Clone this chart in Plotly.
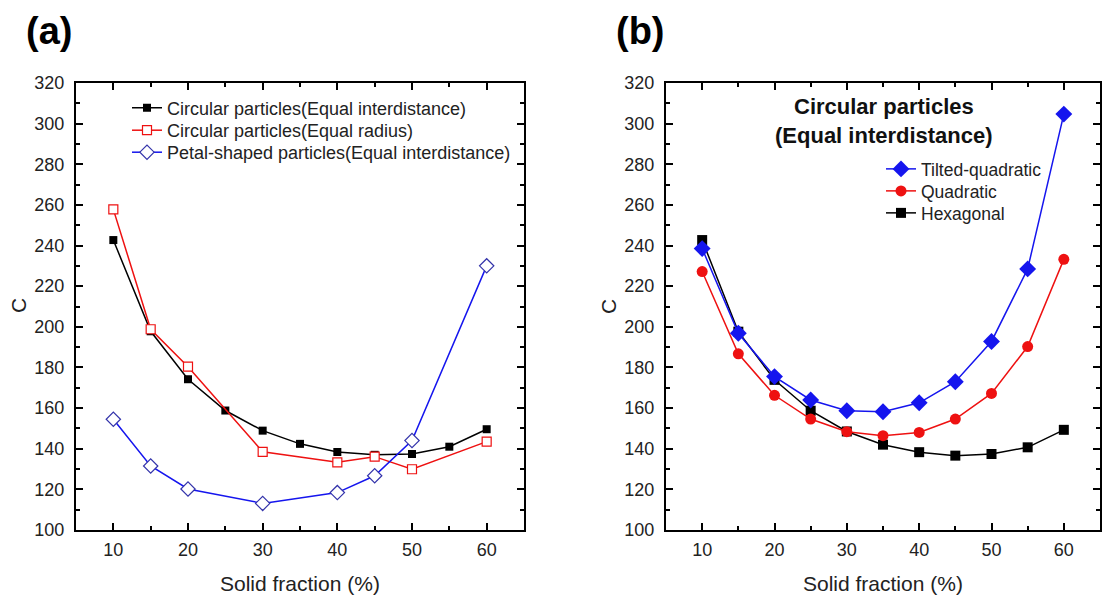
import plotly.graph_objects as go

# ---------------- data ----------------
solid_a_black = [10, 15, 20, 25, 30, 35, 40, 45, 50, 55, 60]
c_circ_equal_inter = [242.7, 197.8, 174.2, 158.8, 148.9, 142.4, 138.4, 137.0, 137.4, 141.0, 149.6]

solid_a_red = [10, 15, 20, 30, 40, 45, 50, 60]
c_circ_equal_radius = [257.8, 198.8, 180.4, 138.5, 133.3, 136.1, 129.9, 143.5]

solid_a_blue = [10, 15, 20, 30, 40, 45, 50, 60]
c_petal_equal_inter = [154.5, 131.5, 120.2, 113.1, 118.4, 126.7, 144.0, 230.0]

solid_b = [10, 15, 20, 25, 30, 35, 40, 45, 50, 55, 60]
c_tilted = [238.5, 196.8, 175.5, 164.0, 158.7, 158.2, 162.6, 173.0, 192.8, 228.5, 304.7]
c_quadratic = [227.2, 186.7, 166.3, 154.6, 148.4, 146.4, 148.0, 154.6, 167.2, 190.3, 233.2]
c_hexagonal = [242.7, 197.6, 173.9, 158.7, 148.5, 142.0, 138.3, 136.6, 137.4, 140.7, 149.3]

labels_a = ["Circular particles(Equal interdistance)",
            "Circular particles(Equal radius)",
            "Petal-shaped particles(Equal interdistance)"]
labels_b = ["Tilted-quadratic", "Quadratic", "Hexagonal"]

W, H = 1117, 598
FONT = "Arial, Liberation Sans, sans-serif"

def px(x):
    return x / W

def py(y):
    return 1 - y / H

fig = go.Figure()

# ---------------- panel (a) ----------------
fig.add_trace(go.Scatter(
    x=solid_a_black, y=c_circ_equal_inter, name=labels_a[0],
    mode="lines+markers", xaxis="x", yaxis="y", legend="legend",
    line=dict(color="black", width=1.5),
    marker=dict(symbol="square", size=8, color="black", line=dict(width=0))))
fig.add_trace(go.Scatter(
    x=solid_a_red, y=c_circ_equal_radius, name=labels_a[1],
    mode="lines+markers", xaxis="x", yaxis="y", legend="legend2",
    line=dict(color="#ee1111", width=1.5),
    marker=dict(symbol="square", size=9, color="white",
                line=dict(color="#ee1111", width=1.2))))
fig.add_trace(go.Scatter(
    x=solid_a_blue, y=c_petal_equal_inter, name=labels_a[2],
    mode="lines+markers", xaxis="x", yaxis="y", legend="legend3",
    line=dict(color="#1515ee", width=1.5),
    marker=dict(symbol="diamond", size=11, color="white",
                line=dict(color="#3333aa", width=1.2))))

# ---------------- panel (b) ----------------
fig.add_trace(go.Scatter(
    x=solid_b, y=c_hexagonal, name=labels_b[2],
    mode="lines+markers", xaxis="x2", yaxis="y2", legend="legend6",
    line=dict(color="black", width=1.5),
    marker=dict(symbol="square", size=10, color="black", line=dict(width=0))))
fig.add_trace(go.Scatter(
    x=solid_b, y=c_quadratic, name=labels_b[1],
    mode="lines+markers", xaxis="x2", yaxis="y2", legend="legend5",
    line=dict(color="#ee1111", width=1.5),
    marker=dict(symbol="circle", size=11, color="#ee1111", line=dict(width=0))))
fig.add_trace(go.Scatter(
    x=solid_b, y=c_tilted, name=labels_b[0],
    mode="lines+markers", xaxis="x2", yaxis="y2", legend="legend4",
    line=dict(color="#1515ee", width=1.5),
    marker=dict(symbol="diamond", size=13, color="#1515ee", line=dict(width=0))))

tickfont = dict(family=FONT, size=18, color="#222222")

def xaxis_cfg(domain, anchor):
    return dict(domain=domain, anchor=anchor, range=[5, 65], automargin=False,
                tick0=10, dtick=10, ticks="inside", ticklen=7, tickwidth=1.5,
                tickcolor="black", showline=True, linewidth=2, linecolor="black",
                mirror="ticks", showgrid=False, zeroline=False,
                tickfont=tickfont, ticklabelstandoff=2,
                minor=dict(dtick=5, ticks="inside", ticklen=4, tickwidth=1.5,
                           tickcolor="black", showgrid=False))

def yaxis_cfg(domain, anchor):
    return dict(domain=domain, anchor=anchor, range=[100, 320], automargin=False,
                tick0=100, dtick=20, ticks="inside", ticklen=7, tickwidth=1.5,
                tickcolor="black", showline=True, linewidth=2, linecolor="black",
                mirror="ticks", showgrid=False, zeroline=False,
                tickfont=tickfont, ticklabelstandoff=6,
                minor=dict(dtick=10, ticks="inside", ticklen=4, tickwidth=1.5,
                           tickcolor="black", showgrid=False))

ydom = [py(530), py(83)]

def ann(text, x, y, size, angle=0, color="#222222"):
    return dict(text=text, x=px(x), y=py(y), xref="paper", yref="paper",
                xanchor="center", yanchor="middle", textangle=angle,
                showarrow=False, font=dict(family=FONT, size=size, color=color))

annotations = [
    ann("<b>(a)</b>", 49, 31, 38, color="black"),
    ann("<b>(b)</b>", 640, 31, 38, color="black"),
    ann("C", 18, 306, 21, angle=-90),
    ann("C", 608, 306, 21, angle=-90),
    ann("Solid fraction (%)", 300, 583, 21),
    ann("Solid fraction (%)", 883, 583, 21),
    ann("<b>Circular particles</b>", 884, 106, 22, color="#111111"),
    ann("<b>(Equal interdistance)</b>", 884, 136, 22, color="#111111"),
]

def leg(x, y, size):
    return dict(x=px(x), y=py(y), xanchor="left", yanchor="middle",
                bgcolor="rgba(0,0,0,0)", borderwidth=0, tracegroupgap=0,
                font=dict(family=FONT, size=size, color="#222222"))

fig.update_layout(
    width=W, height=H,
    margin=dict(l=0, r=0, t=0, b=0, pad=0, autoexpand=False),
    paper_bgcolor="white", plot_bgcolor="white",
    font=dict(family=FONT, color="#222222"),
    xaxis=xaxis_cfg([px(76), px(524)], "y"),
    yaxis=yaxis_cfg(ydom, "x"),
    xaxis2=xaxis_cfg([px(666), px(1100)], "y2"),
    yaxis2=yaxis_cfg(ydom, "x2"),
    legend=leg(127, 108, 18),
    legend2=leg(127, 130.5, 18),
    legend3=leg(127, 152.5, 18),
    legend4=leg(881, 169, 17.5),
    legend5=leg(881, 191, 17.5),
    legend6=leg(881, 213, 17.5),
    annotations=annotations,
    showlegend=True,
)

fig.write_html("out.html")
